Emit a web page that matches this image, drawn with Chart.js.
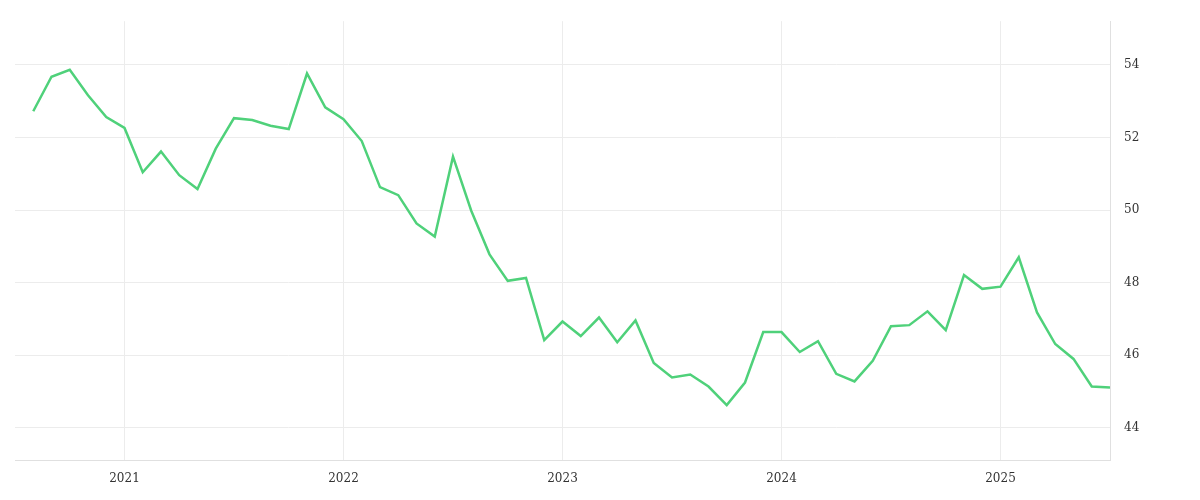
<!DOCTYPE html>
<html>
<head>
<meta charset="utf-8">
<script src="https://cdn.jsdelivr.net/npm/chart.js@4"></script>
<style>
  html, body { margin: 0; padding: 0; background: #fff; }
  #wrap { width: 1200px; height: 500px; position: relative; }
</style>
</head>
<body>
<div id="wrap"><canvas id="chart"></canvas></div>
<script>
// monthly values, Aug 2020 .. Jul 2025
const startYear = 2020, startMonth = 8;
const values = [
  52.72, 53.67, 53.86, 53.16, 52.56,
  52.26, 51.04, 51.61, 50.96, 50.58, 51.69, 52.53, 52.48, 52.32, 52.23, 53.76, 52.83,
  52.5, 51.9, 50.63, 50.41, 49.63, 49.27, 51.47, 49.98, 48.78, 48.05, 48.13, 46.42,
  46.93, 46.53, 47.04, 46.36, 46.96, 45.79, 45.39, 45.47, 45.14, 44.63, 45.25, 46.64,
  46.64, 46.09, 46.39, 45.49, 45.28, 45.85, 46.8, 46.83, 47.21, 46.69, 48.21, 47.83,
  47.89, 48.7, 47.18, 46.31, 45.9, 45.14, 45.11
];
const yearLabels = ['2021', '2022', '2023', '2024', '2025'];
const yTicks = [44, 46, 48, 50, 52, 54];

// index of each January relative to the first month
const yearIdx = yearLabels.map(y => (Number(y) - startYear) * 12 + 1 - startMonth);
const points = values.map((v, i) => ({ x: i, y: v }));

new Chart(document.getElementById('chart'), {
  type: 'line',
  data: {
    datasets: [{
      data: points,
      borderColor: '#4fd17a',
      borderWidth: 2.5,
      pointRadius: 0,
      tension: 0,
      fill: false
    }]
  },
  options: {
    responsive: true,
    maintainAspectRatio: false,
    animation: false,
    layout: { padding: { left: 15, top: 4, right: 0, bottom: 3 } },
    plugins: { legend: { display: false }, tooltip: { enabled: false } },
    scales: {
      x: {
        type: 'linear',
        min: -1,
        max: values.length - 1,
        afterBuildTicks: (axis) => { axis.ticks = yearIdx.map(v => ({ value: v })); },
        ticks: {
          color: '#333',
          font: { family: 'DejaVu Serif', size: 12 },
          padding: 11,
          maxRotation: 0,
          callback: (v) => yearLabels[yearIdx.indexOf(v)]
        },
        grid: { color: '#ececec', drawTicks: false },
        border: { color: '#e0e0e0' }
      },
      y: {
        position: 'right',
        min: 43.1,
        max: 55.2,
        afterBuildTicks: (axis) => { axis.ticks = yTicks.map(v => ({ value: v })); },
        afterFit: (axis) => { axis.width = 90; },
        ticks: {
          color: '#333',
          font: { family: 'DejaVu Serif', size: 12 },
          padding: 14
        },
        grid: { color: '#ececec', drawTicks: false },
        border: { color: '#e0e0e0' }
      }
    }
  }
});
</script>
</body>
</html>
